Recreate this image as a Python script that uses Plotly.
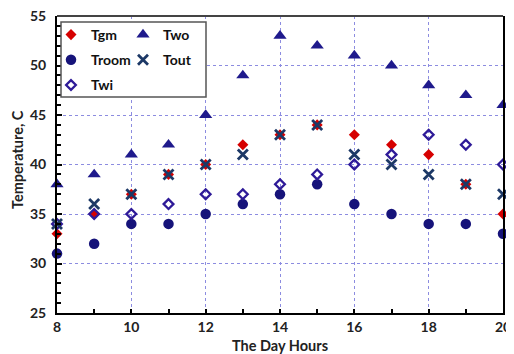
import plotly.graph_objects as go

hours = [8, 9, 10, 11, 12, 13, 14, 15, 16, 17, 18, 19, 20]
tgm = [33, 35, 37, 39, 40, 42, 43, 44, 43, 42, 41, 38, 35]
two = [38, 39, 41, 42, 45, 49, 53, 52, 51, 50, 48, 47, 46]
troom = [31, 32, 34, 34, 35, 36, 37, 38, 36, 35, 34, 34, 33]
tout = [34, 36, 37, 39, 40, 41, 43, 44, 41, 40, 39, 38, 37]
twi = [34, 35, 35, 36, 37, 37, 38, 39, 40, 41, 43, 42, 40]

FONT = "Lato"
fig = go.Figure()

fig.add_trace(go.Scatter(x=hours, y=tgm, name="Tgm", mode="markers", legend="legend",
                         legendgroup="a",
                         marker=dict(symbol="diamond", size=8.5, color="#d60000"), cliponaxis=False))
fig.add_trace(go.Scatter(x=hours, y=troom, name="Troom", mode="markers", legend="legend",
                         legendgroup="b",
                         marker=dict(symbol="circle", size=10.5, color="#16137a"), cliponaxis=False))
fig.add_trace(go.Scatter(x=hours, y=twi, name="Twi", mode="markers", legend="legend",
                         legendgroup="c",
                         marker=dict(symbol="diamond-open", size=7.5, color="#2e1a98",
                                     line=dict(width=2.3, color="#2e1a98")), cliponaxis=False))
fig.add_trace(go.Scatter(x=hours, y=two, name="Two", mode="markers", legend="legend2",
                         legendgroup="d",
                         marker=dict(symbol="triangle-up", size=11.5, color="#1f1a8c"), cliponaxis=False))
fig.add_trace(go.Scatter(x=hours, y=tout, name="Tout", mode="markers", legend="legend2",
                         legendgroup="e",
                         marker=dict(symbol="x-thin-open", size=10, color="#1c3866",
                                     line=dict(width=2.8, color="#1c3866")), cliponaxis=False))

# page body has an 8px margin, so figure coords = screen coords - 8
OFF = 8
W, H = 514 - OFF, 354 - OFF
SL, ST, SR, SB = 57, 16, 503, 313  # plot area in screen px
ml, mt = SL - OFF, ST - OFF
mr, mb = W - (SR - OFF), H - (SB - OFF)
pw, ph = SR - SL, SB - ST

def px(p):
    return (p - SL) / pw

def py(q):
    return (SB - q) / ph

grid = "#8c8ce0"
lfont = dict(family=FONT, size=14, color="#111", weight="bold")
tfont = dict(family=FONT, size=14.5, color="#222", weight="bold")
fig.update_layout(
    width=W, height=H,
    margin=dict(l=ml, r=mr, t=mt, b=mb, autoexpand=False),
    plot_bgcolor="white", paper_bgcolor="white",
    font=dict(family=FONT, size=14, color="#222"),
    legend=dict(xref="container", yref="container", x=(51 - OFF) / W, y=1 - (19 - OFF) / H,
                xanchor="left", yanchor="top", bgcolor="rgba(0,0,0,0)",
                font=lfont, tracegroupgap=4, borderwidth=0),
    legend2=dict(xref="container", yref="container", x=(123 - OFF) / W, y=1 - (19 - OFF) / H,
                 xanchor="left", yanchor="top", bgcolor="rgba(0,0,0,0)",
                 font=lfont, tracegroupgap=4, borderwidth=0),
    shapes=[
        dict(type="rect", xref="paper", yref="paper", x0=px(61), x1=px(206), y0=py(97), y1=py(22),
             line=dict(color="#555", width=1.5), fillcolor="white", layer="above"),
        dict(type="line", xref="paper", yref="paper", x0=0, x1=1, y0=1, y1=1,
             line=dict(color="#444", width=2), layer="above"),
    ],
    annotations=[
        dict(text="Temperature, C", xref="paper", yref="paper", x=px(17), y=py(160),
             textangle=-90, showarrow=False, font=tfont, xanchor="center", yanchor="middle"),
        dict(text="The Day Hours", xref="paper", yref="paper", x=px(280), y=py(345),
             showarrow=False, font=tfont, xanchor="center", yanchor="middle"),
    ],
)

fig.update_xaxes(
    range=[8, 20], dtick=2, tick0=8, automargin=False, ticklabeloverflow="allow",
    showline=True, linecolor="black", linewidth=2, mirror=False,
    ticks="inside", ticklen=4, tickcolor="black", tickwidth=2,
    minor=dict(dtick=1, ticks="inside", ticklen=4, tickcolor="black", tickwidth=2, showgrid=False),
    showgrid=True, gridcolor=grid, griddash="dot", gridwidth=1,
    zeroline=False,
    tickfont=dict(family=FONT, size=14, color="#222", weight="bold"),
)
fig.update_yaxes(
    range=[25, 55], dtick=5, tick0=25, automargin=False, ticklabeloverflow="allow",
    showline=True, linecolor="black", linewidth=2, mirror=True,
    ticks="inside", ticklen=5, tickcolor="black", tickwidth=2,
    minor=dict(dtick=1, ticks="inside", ticklen=4, tickcolor="black", tickwidth=1.5, showgrid=False),
    showgrid=True, gridcolor=grid, griddash="dot", gridwidth=1,
    zeroline=False, ticklabelstandoff=6,
    tickfont=dict(family=FONT, size=14, color="#222", weight="bold"),
)

fig.write_html("out.html")
